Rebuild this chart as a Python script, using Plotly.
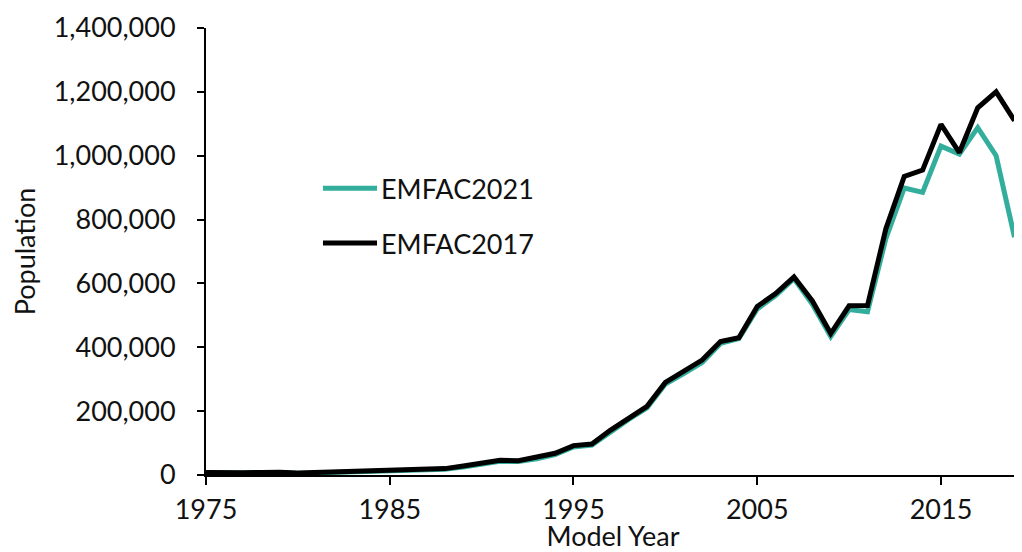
import plotly.graph_objects as go

years = list(range(1975, 2020))

emfac2017 = [8000, 6000, 7000, 8000, 9000, 6000, 8000, 8000, 9000, 12000,
             15000, 16000, 20000, 20000, 28000, 38000, 46000, 45000, 55000, 68000,
             92000, 97000, 140000, 178000, 215000, 290000, 325000, 360000, 418000, 430000,
             528000, 568000, 620000, 545000, 443000, 530000, 531000, 771000, 935000, 955000,
             1098000, 1010000, 1150000, 1200000, 1110000]

emfac2021 = [7000, 5000, 6000, 7000, 8000, 5000, 7000, 7000, 8000, 10000,
             13000, 14000, 18000, 18000, 25000, 35000, 43000, 42000, 51000, 64000,
             88000, 94000, 135000, 174000, 210000, 285000, 318000, 352000, 412000, 427000,
             520000, 562000, 615000, 535000, 434000, 518000, 511000, 740000, 899000, 885000,
             1030000, 1005000, 1088000, 1000000, 745000]

series_names = ["EMFAC2021", "EMFAC2017"]
series_colors = ["#33ae9c", "#000000"]

y_ticks = [0, 200000, 400000, 600000, 800000, 1000000, 1200000, 1400000]
x_ticks = [1975, 1985, 1995, 2005, 2015]

FONT = "Lato"
FS = 27

fig = go.Figure()
for name, vals, col in zip(series_names, [emfac2021, emfac2017], series_colors):
    fig.add_trace(go.Scatter(x=years, y=vals, mode="lines", name=name,
                             showlegend=False,
                             line=dict(color=col, width=5)))

# legend drawn by hand (longer line samples as in the reference)
leg_y = [0.6414, 0.5189]
shapes = []
annotations = []
for name, col, ly in zip(series_names, series_colors, leg_y):
    shapes.append(dict(type="line", xref="paper", yref="paper",
                       x0=0.1437, x1=0.2101, y0=ly, y1=ly,
                       line=dict(color=col, width=5)))
    annotations.append(dict(text=name, xref="paper", yref="paper",
                            x=0.2125, y=ly, xanchor="left", yanchor="middle",
                            showarrow=False,
                            font=dict(family=FONT, size=FS, color="#111111")))

fig.update_layout(
    width=1014, height=544,
    margin=dict(l=198, r=2, t=18, b=77),
    paper_bgcolor="white", plot_bgcolor="white",
    font=dict(family=FONT, size=FS, color="#111111"),
    showlegend=False,
    shapes=shapes,
    annotations=annotations,
    xaxis=dict(range=[1975, 2019.3], tickvals=x_ticks, showgrid=False, zeroline=False,
               showline=True, linecolor="black", linewidth=2,
               ticks="outside", ticklen=8, tickwidth=2, tickcolor="black",
               ticklabelstandoff=2,
               title=dict(text="Model Year", standoff=6, font=dict(size=FS))),
    yaxis=dict(range=[0, 1400000], tickvals=y_ticks, tickformat=",d",
               showgrid=False, zeroline=False,
               showline=True, linecolor="black", linewidth=2,
               ticks="outside", ticklen=7, tickwidth=2, tickcolor="black",
               ticklabelstandoff=16,
               title=dict(text="Population", standoff=14, font=dict(size=FS))),
)

fig.write_html("out.html")
